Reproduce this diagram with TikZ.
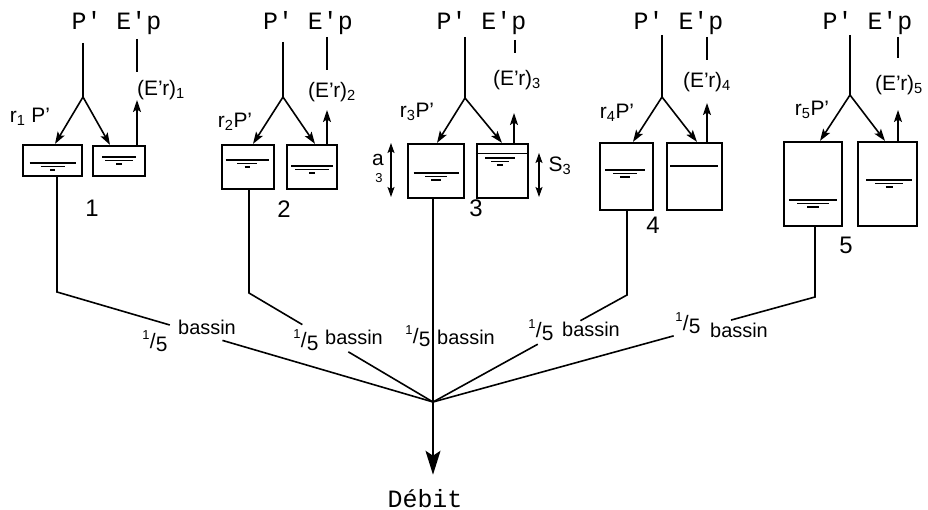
\documentclass[tikz,border=0pt]{standalone}
\usepackage{fontspec}
\setmainfont{Liberation Sans}[Ligatures=TeX]
\newfontfamily\typew{Liberation Mono}
\usetikzlibrary{arrows.meta,calc}

% three strokes of a water level: centre x, level y, half widths
\newcommand\waterlevel[5]{%
  \draw[level] ({#1-#3},#2) -- ({#1+#3},#2);
  \draw[level] ({#1-#4},#2+3.5) -- ({#1+#4},#2+3.5);
  \draw[level,line width=1.5bp] ({#1-#5},#2+7) -- ({#1+#5},#2+7);}
% the hand-written fraction one fifth
\newcommand\fifthof{\raisebox{.42em}{\fontsize{13}{13}\selectfont 1}\kern.3pt/\kern.3pt\raisebox{-.15em}{5}}

\tikzset{
  wire/.style={line width=1.6bp},
  tank/.style={draw, line width=2.2bp, inner sep=0pt},
  level/.style={line width=1.1bp},
  flowarrow/.style={wire, arrows={-Stealth[length=12bp,width=8bp,inset=2.5bp]}},
  dimarrow/.style={line width=1.3bp, arrows={Stealth[length=10bp,width=7bp,inset=2bp]-Stealth[length=10bp,width=7bp,inset=2bp]}},
  outarrow/.style={wire, arrows={-Stealth[length=24bp,width=15bp,inset=5bp]}},
  head/.style={font=\typew\fontsize{25}{25}\selectfont, inner sep=0pt, anchor=base},
  hw/.style={font=\fontsize{21}{21}\selectfont, inner sep=0pt},
  word/.style={font=\fontsize{20}{20}\selectfont, inner sep=0pt, anchor=base west},
  num/.style={font=\fontsize{24}{24}\selectfont, inner sep=0pt},
}

\begin{document}
\begin{tikzpicture}[x=1bp, y=-1bp]
\fill[white] (0,0) rectangle (928,510);
\useasboundingbox (0,0) rectangle (928,510);

% ---------- reservoir pairs ----------
\node[tank, minimum width=59bp, minimum height=31bp] (L1) at (52.5,160.5) {};
\node[tank, minimum width=52bp, minimum height=30bp] (R1) at (119,161) {};
\node[tank, minimum width=52bp, minimum height=44bp] (L2) at (248,167) {};
\node[tank, minimum width=50bp, minimum height=44bp] (R2) at (312,167) {};
\node[tank, minimum width=56bp, minimum height=54bp] (L3) at (436,171) {};
\node[tank, minimum width=51bp, minimum height=54bp] (R3) at (502.5,171) {};
\node[tank, minimum width=53bp, minimum height=67bp] (L4) at (626.5,176.5) {};
\node[tank, minimum width=55bp, minimum height=67bp] (R4) at (694.5,176.5) {};
\node[tank, minimum width=58bp, minimum height=84bp] (L5) at (813,184) {};
\node[tank, minimum width=59bp, minimum height=84bp] (R5) at (887.5,184) {};

% water levels
\waterlevel{52.5}{163}{23}{12}{2.5}
\waterlevel{119}{157}{17}{14}{3}
\waterlevel{247}{160}{21.5}{10}{2.5}
\waterlevel{312}{166}{21}{17}{3}
\waterlevel{436}{173}{22.5}{11}{5}
\waterlevel{500}{158}{15}{9}{3}
\draw[level] ($(R3.north west)+(0,11)$) -- ($(R3.north east)+(0,11)$);
\waterlevel{625}{170}{20}{12}{5}
\draw[level] (670,166) -- (718,166);
\waterlevel{813}{200}{24}{16}{6}
\waterlevel{889}{180}{23}{14}{3.5}

% ---------- headings ----------
\foreach \i/\x in {1/116.5, 2/308, 3/481.5, 4/678.5, 5/867.5}
  \node[head] (h\i) at (\x,30) {P\textquotesingle{} E\textquotesingle p};

% rain stems and split points
\coordinate (p1) at (83,43);  \coordinate (B1) at (83,97);
\coordinate (p2) at (283,42); \coordinate (B2) at (283,97);
\coordinate (p3) at (465,37); \coordinate (B3) at (465,98);
\coordinate (p4) at (662,35); \coordinate (B4) at (662,97);
\coordinate (p5) at (850,35); \coordinate (B5) at (850,95);
\foreach \i in {1,...,5} \draw[wire] (p\i) -- (B\i);

% landing points on the reservoir tops
\coordinate (a1) at (55,0);  \coordinate (b1) at (110,0);
\coordinate (a2) at (253,0); \coordinate (b2) at (315,0);
\coordinate (a3) at (437,0); \coordinate (b3) at (502,0);
\coordinate (a4) at (633,0); \coordinate (b4) at (697,0);
\coordinate (a5) at (820,0); \coordinate (b5) at (885,0);
\foreach \i in {1,...,5} {
  \draw[flowarrow] (B\i) -- (L\i.north -| a\i);
  \draw[flowarrow] (B\i) -- (R\i.north -| b\i);
}

% evaporation stems and arrows
\coordinate (s1) at (137,39); \coordinate (t1) at (137,72);  \coordinate (u1) at (137,100);
\coordinate (s2) at (327,37); \coordinate (t2) at (327,70);  \coordinate (u2) at (327,110);
\coordinate (s3) at (515,40); \coordinate (t3) at (515,53);  \coordinate (u3) at (514,113);
\coordinate (s4) at (707,37); \coordinate (t4) at (707,60);  \coordinate (u4) at (707,103);
\coordinate (s5) at (898,37); \coordinate (t5) at (898,58);  \coordinate (u5) at (898,110);
\foreach \i in {1,...,5} {
  \draw[wire] (s\i) -- (t\i);
  \draw[flowarrow] (R\i.north -| u\i) -- (u\i);
}

% hand-written labels
\node[hw] (r1) at (30,117)  {r\textsubscript{1} P’};
\node[hw] (r2) at (235,122) {r\textsubscript{2}P’};
\node[hw] (r3) at (417,112) {r\textsubscript{3}P’};
\node[hw] (r4) at (617,113) {r\textsubscript{4}P’};
\node[hw] (r5) at (812,110) {r\textsubscript{5}P’};
\node[hw] (e1) at (161,90) {(E’\kern-.5pt r)\textsubscript{1}};
\node[hw] (e2) at (332,92) {(E’\kern-.5pt r)\textsubscript{2}};
\node[hw] (e3) at (517,80) {(E’\kern-.5pt r)\textsubscript{3}};
\node[hw] (e4) at (707,82) {(E’\kern-.5pt r)\textsubscript{4}};
\node[hw] (e5) at (899,85) {(E’\kern-.5pt r)\textsubscript{5}};

% reservoir numbers
\node[num] (n1) at (92,208)  {1};
\node[num] (n2) at (284,209) {2};
\node[num] (n3) at (476,208) {3};
\node[num] (n4) at (653,225) {4};
\node[num] (n5) at (846,245) {5};

% capacities of reservoir pair 3
\coordinate (da) at (391,143); \coordinate (db) at (391,197);
\coordinate (dc) at (539,153); \coordinate (dd) at (539,197);
\draw[dimarrow] (da) -- (db);
\draw[dimarrow] (dc) -- (dd);
\node[hw] (alab) at (378,160) {a};
\node[font=\fontsize{13}{13}\selectfont, inner sep=0pt] (asub) at (379,178) {3};
\node[hw] (slab) at (560,166) {S\textsubscript{3}};

% ---------- routing to the outlet ----------
\coordinate (V) at (433,402);
\node[head] (Debit) at (425,507) {Débit};

\coordinate (k1) at (57,292);
\coordinate (k2) at (249,293);
\coordinate (k4) at (627,295);
\coordinate (k5) at (815,297);
\draw[wire] (L1.south -| k1) -- (k1) -- ($(k1)!0.30!(V)$);
\draw[wire] ($(k1)!0.44!(V)$) -- (V);
\draw[wire] (L2.south -| k2) -- (k2) -- ($(k2)!0.29!(V)$);
\draw[wire] ($(k2)!0.54!(V)$) -- (V);
\draw[wire] (L4.south -| k4) -- (k4) -- ($(k4)!0.24!(V)$);
\draw[wire] ($(k4)!0.46!(V)$) -- (V);
\draw[wire] (L5.south -| k5) -- (k5) -- ($(k5)!0.22!(V)$);
\draw[wire] ($(k5)!0.37!(V)$) -- (V);
\draw[outarrow, shorten >=14bp] (L3.south -| V) -- (V |- Debit.north);

% one fifth of the catchment on each branch
\node[hw] (f1) at (155,341) {\fifthof};
\node[word] (w1) at (178,335) {bassin};
\node[hw] (f2) at (306,340) {\fifthof};
\node[word] (w2) at (325,345) {bassin};
\node[hw] (f3) at (418,336) {\fifthof};
\node[word] (w3) at (437,345) {bassin};
\node[hw] (f4) at (541,330) {\fifthof};
\node[word] (w4) at (562,337) {bassin};
\node[hw] (f5) at (688,323) {\fifthof};
\node[word] (w5) at (710,338) {bassin};
\end{tikzpicture}
\end{document}
